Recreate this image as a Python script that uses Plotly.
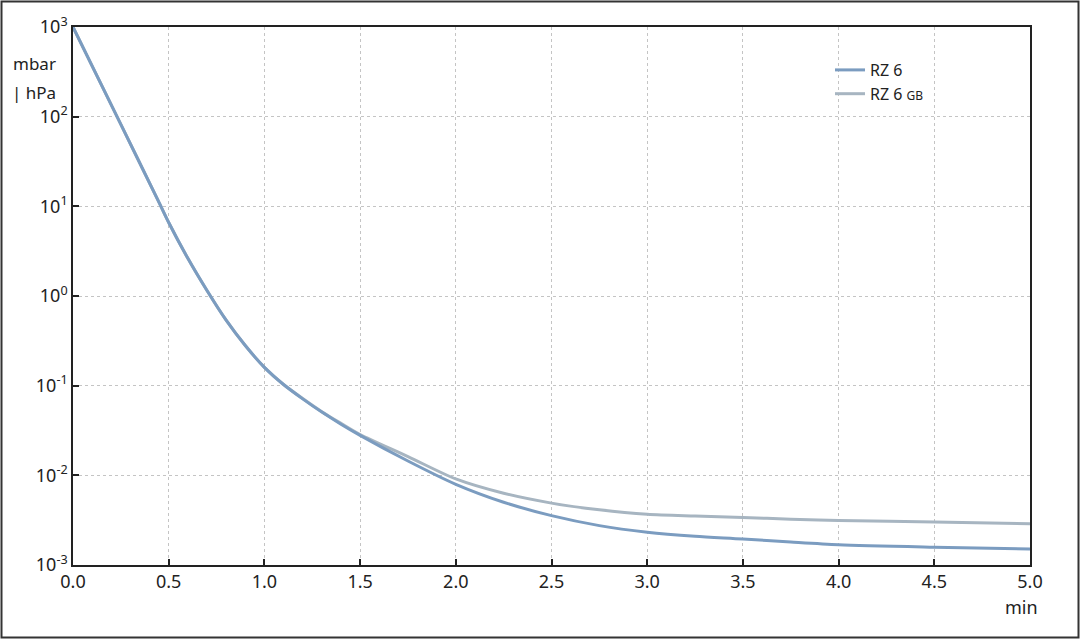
import plotly.graph_objects as go

# pump-down curves (time in min, pressure in mbar)
t_min = [0.0, 0.25, 0.45, 0.5, 0.6, 0.7, 0.8, 0.9, 1.0, 1.1, 1.2, 1.3, 1.4,
         1.5, 1.75, 2.0, 2.25, 2.5, 2.75, 3.0, 3.25, 3.5, 3.75, 4.0, 4.5, 5.0]

p_rz6 = [1000, 82, 11.0, 6.6, 2.63, 1.15, 0.537, 0.28, 0.16, 0.103, 0.0712,
         0.0507, 0.0372, 0.0279, 0.01445, 0.00794, 0.00501, 0.00355, 0.00275,
         0.00232, 0.00209, 0.00195, 0.0018, 0.00168, 0.00158, 0.00151]

p_rz6_gb = [1000, 82, 11.0, 6.6, 2.63, 1.15, 0.537, 0.28, 0.16, 0.103, 0.072,
            0.0513, 0.038, 0.0285, 0.0162, 0.00912, 0.00631, 0.0049, 0.00412,
            0.00367, 0.00351, 0.00339, 0.00324, 0.00313, 0.00302, 0.00288]

y_ticks = [1e-3, 1e-2, 1e-1, 1e0, 1e1, 1e2, 1e3]
y_tick_text = ["10<sup>-3</sup>", "10<sup>-2</sup>", "10<sup>-1</sup>",
               "10<sup>0</sup>", "10<sup>1</sup>", "10<sup>2</sup>", "10<sup>3</sup>"]

FONT = "Noto Sans"
INK = "#222"
W, H = 1080, 639
M = dict(l=73, r=50, t=27, b=74)
pw = W - M["l"] - M["r"]
ph = H - M["t"] - M["b"]


def px(x):
    # page pixel -> paper x
    return (x - M["l"]) / pw


def py(y):
    # page pixel -> paper y
    return (M["t"] + ph - y) / ph


fig = go.Figure()
fig.add_trace(go.Scatter(
    x=t_min, y=p_rz6_gb, mode="lines",
    name='RZ 6 <span style="font-size:12px">GB</span>',
    line=dict(color="#a7b5c1", width=3, shape="spline", smoothing=0.8),
))
fig.add_trace(go.Scatter(
    x=t_min, y=p_rz6, mode="lines", name="RZ 6",
    line=dict(color="#7b9cc0", width=3, shape="spline", smoothing=0.8),
))

axis_common = dict(
    showline=True, linecolor=INK, linewidth=1.5, mirror=True,
    ticks="inside", ticklen=6, tickcolor=INK, tickwidth=1.5,
    showgrid=True, gridcolor="#c4c4c4", griddash="dot", gridwidth=1,
    zeroline=False, automargin=False,
    tickfont=dict(family=FONT, size=18, color=INK),
)

fig.update_xaxes(range=[0, 5], tickvals=[i * 0.5 for i in range(11)],
                 tickformat=".1f", **axis_common)
fig.update_yaxes(type="log", range=[-3, 3], tickvals=y_ticks,
                 ticktext=y_tick_text, **axis_common)

# outer frame round the whole picture
fig.add_shape(type="rect", xref="paper", yref="paper",
              x0=px(1.5), x1=px(W - 1.5), y0=py(H - 1.5), y1=py(1.5),
              line=dict(color="#333", width=2))

for txt, yy in [("mbar", 63), ("| hPa", 92)]:
    fig.add_annotation(text=txt, xref="paper", yref="paper",
                       x=px(58), y=py(yy), xanchor="right", yanchor="middle",
                       showarrow=False, font=dict(family=FONT, size=17, color=INK))
fig.add_annotation(text="min", xref="paper", yref="paper",
                   x=px(1021), y=py(607), xanchor="center", yanchor="middle",
                   showarrow=False, font=dict(family=FONT, size=18, color=INK))

fig.update_layout(
    width=W, height=H, margin=M,
    paper_bgcolor="white", plot_bgcolor="white",
    font=dict(family=FONT, size=16, color=INK),
    legend=dict(x=px(830), y=py(53), xanchor="left", yanchor="top",
                traceorder="reversed", bgcolor="rgba(0,0,0,0)",
                font=dict(family=FONT, size=16, color=INK)),
)

# the page has a default 8px body margin; drop it so the figure sits at 0,0
fig.write_html("out.html", config={"displayModeBar": False},
               post_script="document.body.style.margin='0px';")
